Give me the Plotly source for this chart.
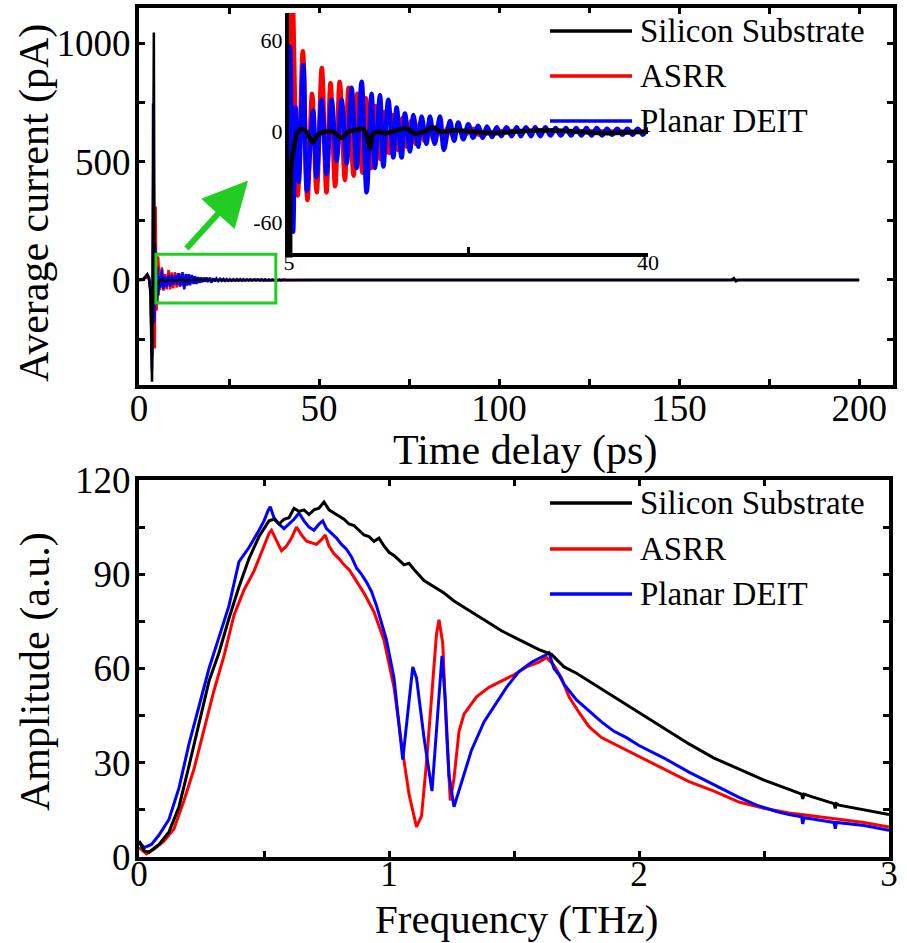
import plotly.graph_objects as go

W, H = 907, 943
FONT = "Liberation Serif, Times New Roman, serif"
RED, BLUE, BLACK, GREEN = "#ff0000", "#0000ff", "#000000", "#22cc22"

# ---------------- time domain (ps, pA) ----------------
t_si = [0, 1.0, 1.8, 2.3, 2.8, 3.2, 3.45, 3.62, 3.8, 3.97, 4.12, 4.3, 4.45, 4.7, 5.0, 5.12, 5.22,
        5.5, 5.8, 6.2, 6.7, 7.3, 7.8, 8.5, 9.3, 10.1, 10.8, 11.5, 12.2, 12.6, 12.9, 13.2, 13.7,
        14.5, 15.5, 16.5, 17.2, 18.2, 19.0, 19.8, 21, 23, 25, 27, 30, 33, 36, 40, 50, 70, 100,
        130, 164.5, 165.2, 165.8, 166.5, 180, 200]
i_si = [0, 2, 15, 25, 10, -60, -300, -430, -100, 500, 1045, 60, -80, -100, -95, -60, -22,
        -10, -1, 2, 0, -7, -2, 0, 0, -4, 0, 1, 2, -3, -11, -1, 0,
        -1, 1, 2, -1, 0, 3, 0, 1, 0, -1, 0, 1, 0, -1, 0, 0, 0, 0,
        0, 0, 8, -6, 0, 0, 0]

t_asrr = [0, 1.0, 1.8, 2.4, 2.9, 3.3, 3.5, 3.68, 3.85, 4.02, 4.2, 4.4, 4.62, 4.85, 5.02, 5.3,
          5.85, 6.35, 6.8, 7.25, 7.7, 8.2, 8.65, 9.05, 9.5, 9.95, 10.45, 10.8, 11.3, 11.65,
          12.15, 12.5, 13.0, 13.45, 13.9, 14.3, 14.75, 15.15, 15.6, 16.05, 16.5, 16.9, 17.35,
          17.8, 18.2, 18.65, 19.1, 19.5, 20.0, 20.5, 21.0, 21.5, 22.0, 23.0, 23.5, 25, 40, 200]
i_asrr = [0, 0, 8, 12, -5, -60, -250, -330, 50, 620, 250, -290, 310, -130, -100, 100,
          -42, 53, -45, 25, -40, 42, -40, 32, -36, 33, -32, 29, -29, 25,
          -27, 22, -24, 17, -18, 13, -14, 11, -12, 9, -10, 7, -8,
          6, -6, 5, -5, 4, -4, 3, -3, 2.5, -2.5, 2, -2, 0, 0, 0]

t_deit = [0, 1.0, 1.8, 2.3, 2.8, 3.2, 3.45, 3.6, 3.76, 3.9, 4.05, 4.25, 4.5, 4.75, 4.95, 5.1,
          5.4, 5.65, 5.95, 6.4, 6.75, 7.35, 7.69, 8.18, 8.67, 9.16, 9.64, 10.13, 10.62, 11.1,
          11.59, 12.08, 12.57, 13.05, 13.38, 13.87, 14.2, 14.68, 15.17, 15.49, 15.98, 16.3,
          16.8, 17.12, 17.6, 17.93, 18.4, 18.74, 19.2, 19.72, 20.1, 20.69, 21.1, 21.5, 22.0,
          22.48, 22.95, 23.45, 23.9, 24.3, 24.8, 25.25, 25.7, 26.2, 26.7, 27.2, 27.6, 28.1,
          28.6, 29.0, 29.5, 30.0, 30.5, 31.0, 31.5, 32.0, 32.5, 33.0, 33.5, 34.0, 34.5, 35.0,
          35.5, 36.0, 36.5, 37.0, 37.5, 38.0, 38.5, 39.0, 39.5, 40.0, 41, 200]
i_deit = [0, 1, 10, 18, 5, -50, -250, -380, -80, 745, 250, -180, 150, -90, 20, 56,
          -66, 16, -33, 44, -39, 14, -30, 21, -28, 21, -19, 21, -21, 29,
          -24, 33, -40, 25, -24, 24, -23, 21, -17, 16, -17, 12,
          -13, 11, -10, 10, -8, 10, -8, 10, -12, 7, -6, 6, -5,
          5, -4, 4, -4, 3.5, -3.5, 3, -3, 3, -3, 3, -3, 3,
          -3, 3, -3, 3, -2.5, 2.5, -2.5, 2.5, -2.5, 2.5, -2.5, 2.5, -2.5, 2.5,
          -2.5, 2, -2, 2, -2, 2, -2, 2, -2, 1.5, 0, 0]

# ---------------- spectrum (THz, a.u.) as (frequency, amplitude) readings ----------------
spec_si = [
    (0.0, 5), (0.02, 2), (0.04, 1.5), (0.08, 4), (0.12, 8), (0.16, 16), (0.2, 29), (0.24, 43),
    (0.28, 56), (0.32, 65), (0.36, 76), (0.4, 86), (0.44, 95), (0.48, 102),
    (0.50, 104.5), (0.52, 107), (0.54, 107.5), (0.56, 106), (0.58, 107.5), (0.60, 108),
    (0.62, 111), (0.64, 110), (0.66, 110.5), (0.68, 109), (0.70, 110.5), (0.72, 111),
    (0.74, 113), (0.76, 110.5), (0.78, 109.5), (0.80, 108.5), (0.82, 107.5), (0.84, 106),
    (0.86, 105.5), (0.88, 104), (0.90, 102.5), (0.92, 102), (0.94, 100.5), (0.96, 101.5),
    (0.98, 99), (1.00, 97), (1.02, 96), (1.04, 94.5), (1.06, 93), (1.08, 93.5), (1.10, 91.5),
    (1.14, 88), (1.18, 86), (1.22, 84), (1.26, 81.5), (1.3, 79.5), (1.35, 77), (1.4, 74.5),
    (1.45, 72), (1.5, 70), (1.55, 68), (1.6, 66), (1.65, 64.5), (1.7, 60.5), (1.75, 58.5),
    (1.8, 56), (1.9, 51), (2.0, 46), (2.1, 41), (2.2, 36), (2.3, 31.5), (2.4, 28), (2.5, 24.5),
    (2.6, 21.5), (2.65, 20), (2.655, 18.5), (2.66, 20), (2.7, 19), (2.78, 17), (2.785, 15.5),
    (2.79, 17), (2.8, 16.5), (2.9, 15), (3.0, 13.5),
]
spec_asrr = [
    (0.0, 3), (0.03, 1), (0.06, 2.5), (0.1, 5), (0.14, 9), (0.18, 18), (0.22, 28), (0.26, 41),
    (0.3, 53), (0.34, 64), (0.38, 77), (0.42, 85), (0.46, 91),
    (0.50, 99), (0.52, 103), (0.53, 104), (0.55, 100.5), (0.57, 97.5), (0.59, 99), (0.61, 101.5),
    (0.63, 105), (0.65, 102.5), (0.67, 100.5), (0.69, 100), (0.71, 99.5), (0.73, 101),
    (0.745, 102.5), (0.76, 99), (0.78, 96.5), (0.80, 95), (0.82, 93), (0.84, 91.5), (0.86, 89),
    (0.88, 86.5), (0.90, 84), (0.92, 81), (0.94, 78), (0.98, 69),
    (1.02, 54), (1.05, 36), (1.08, 20), (1.11, 9.6), (1.13, 13), (1.15, 30), (1.17, 52),
    (1.19, 71), (1.2, 75.5), (1.215, 68), (1.23, 40), (1.245, 18), (1.26, 25), (1.28, 40),
    (1.3, 45.5), (1.35, 51), (1.4, 54), (1.45, 56), (1.5, 58), (1.55, 60.5), (1.6, 62),
    (1.63, 63.5), (1.66, 61), (1.69, 57), (1.72, 51), (1.76, 46), (1.8, 41.5), (1.85, 38),
    (1.9, 36), (1.95, 34), (2.0, 32), (2.1, 28), (2.2, 24), (2.3, 21), (2.4, 17.5), (2.5, 15.5),
    (2.6, 14), (2.65, 13.5), (2.7, 13), (2.8, 12), (2.9, 11), (3.0, 9.5),
]
spec_deit = [
    (0.0, 5), (0.02, 3), (0.05, 4), (0.08, 7), (0.12, 12), (0.16, 22), (0.2, 36), (0.24, 48),
    (0.28, 60), (0.32, 70), (0.36, 80), (0.4, 94), (0.44, 98.5), (0.48, 104),
    (0.50, 107), (0.515, 110), (0.525, 111.5), (0.54, 108), (0.56, 106), (0.58, 104.5),
    (0.60, 106), (0.62, 107.5), (0.64, 109.5), (0.66, 107), (0.68, 105), (0.70, 104),
    (0.72, 106), (0.735, 107), (0.75, 104.5), (0.77, 103), (0.79, 101.5), (0.81, 99.5),
    (0.83, 98), (0.85, 95.5), (0.87, 92), (0.89, 90), (0.91, 87.5), (0.93, 84.5), (0.95, 80),
    (0.99, 69), (1.02, 57), (1.055, 31), (1.075, 45), (1.095, 60.5), (1.11, 57), (1.14, 38),
    (1.172, 21), (1.19, 40), (1.212, 64), (1.225, 50), (1.24, 26), (1.26, 16), (1.29, 24),
    (1.33, 34), (1.38, 43), (1.42, 48), (1.47, 54), (1.52, 59), (1.57, 62), (1.62, 64),
    (1.64, 65), (1.66, 60), (1.68, 58), (1.7, 55), (1.72, 53), (1.75, 50), (1.8, 46.5),
    (1.85, 43), (1.9, 40), (1.95, 38), (2.0, 35.5), (2.1, 31.5), (2.2, 27), (2.3, 23), (2.4, 19),
    (2.47, 16.5), (2.55, 14.5), (2.6, 13.5), (2.65, 12.8), (2.655, 10.5), (2.66, 12.5), (2.7, 12),
    (2.78, 11), (2.785, 9), (2.79, 11), (2.9, 10), (3.0, 8.5),
]
f_si, a_si = [p[0] for p in spec_si], [p[1] for p in spec_si]
f_asrr, a_asrr = [p[0] for p in spec_asrr], [p[1] for p in spec_asrr]
f_deit, a_deit = [p[0] for p in spec_deit], [p[1] for p in spec_deit]

series = [  # drawn red, blue, black (black on top)
    ("ASRR", RED, t_asrr, i_asrr, f_asrr, a_asrr),
    ("Planar DEIT", BLUE, t_deit, i_deit, f_deit, a_deit),
    ("Silicon Substrate", BLACK, t_si, i_si, f_si, a_si),
]
legend_order = ["Silicon Substrate", "ASRR", "Planar DEIT"]
legend_color = {"Silicon Substrate": BLACK, "ASRR": RED, "Planar DEIT": BLUE}


def px(x):
    return x / W


def py(y):
    return 1 - y / H


fig = go.Figure()
for name, col, t, i, f, a in series:
    fig.add_trace(go.Scatter(x=t, y=i, mode="lines", name=name, showlegend=False,
                             line=dict(color=col, width=2.5), xaxis="x", yaxis="y"))
for name, col, t, i, f, a in series:
    fig.add_trace(go.Scatter(x=t, y=i, mode="lines", name=name, showlegend=False,
                             line=dict(color=col, width=4.5, shape="spline", smoothing=1.0),
                             xaxis="x2", yaxis="y2"))
for name, col, t, i, f, a in series:
    fig.add_trace(go.Scatter(x=f, y=a, mode="lines", name=name, showlegend=False,
                             line=dict(color=col, width=3), xaxis="x3", yaxis="y3"))

tick_font = dict(family=FONT, size=37, color="black")
frame = dict(showline=True, linecolor="black", linewidth=4, mirror="allticks",
             ticks="inside", ticklen=6, tickwidth=3, tickcolor="black",
             showgrid=False, zeroline=False, tickfont=tick_font)


def minor(d):
    return dict(ticks="inside", ticklen=6, tickwidth=3, tickcolor="black", dtick=d, showgrid=False)


fig.update_layout(
    width=W, height=H, margin=dict(l=0, r=0, t=0, b=0, autoexpand=False),
    paper_bgcolor="white", plot_bgcolor="white", showlegend=False,
    font=dict(family=FONT, color="black"),
    xaxis=dict(domain=[px(139), px(893)], range=[0, 209.4], anchor="y", automargin=False,
               tick0=0, dtick=50, minor=minor(25), ticklabelstandoff=-12, **frame),
    yaxis=dict(domain=[py(385), py(8)], range=[-444, 1149], anchor="x", automargin=False,
               tick0=0, dtick=500, minor=minor(250), ticklabelstandoff=-3, **frame),
    xaxis2=dict(domain=[px(289), px(648)], range=[5, 40], anchor="y2", automargin=False,
                showline=True, linecolor="black", linewidth=4, mirror=False,
                ticks="inside", ticklen=6, tickwidth=3, tickcolor="black",
                tickvals=[5, 22.5, 40], ticktext=["5", "", "40"], showgrid=False, zeroline=False,
                tickfont=dict(family=FONT, size=22, color="black"), ticklabelstandoff=-13),
    yaxis2=dict(domain=[py(253), py(13)], range=[-80, 78.3], anchor="x2", automargin=False,
                showline=True, linecolor="black", linewidth=4, mirror=False,
                ticks="", tickvals=[-60, 0, 60], ticktext=["-60", "0", "60"],
                showgrid=False, zeroline=False,
                tickfont=dict(family=FONT, size=22, color="black"), ticklabelstandoff=-2),
    xaxis3=dict(domain=[px(139), px(889)], range=[0, 3], anchor="y3", automargin=False,
                tick0=0, dtick=1, minor=minor(0.5), ticklabelstandoff=-17,
                **{**frame, "tickfont": dict(family=FONT, size=35, color="black")}),
    yaxis3=dict(domain=[py(857), py(480)], range=[0, 120], anchor="x3", automargin=False,
                tick0=0, dtick=30, minor=minor(15), ticklabelstandoff=-3, **frame),
)

# zoom box and arrow on main panel
fig.add_shape(type="rect", xref="x", yref="y", x0=4.7, x1=38, y0=-97, y1=109,
              line=dict(color=GREEN, width=3))
fig.add_annotation(xref="x", yref="y", axref="x", ayref="y", x=30.3, y=420, ax=12.8, ay=126,
                   text="", showarrow=True, arrowhead=2, arrowsize=1.5, arrowwidth=6,
                   arrowcolor=GREEN)

# axis titles
title_font = dict(family=FONT, size=42, color="black")
fig.add_annotation(xref="paper", yref="paper", x=px(35), y=py(203), text="Average current (pA)",
                   textangle=-90, showarrow=False, font=title_font, xanchor="center", yanchor="middle")
fig.add_annotation(xref="paper", yref="paper", x=px(525), y=py(450), text="Time delay (ps)",
                   showarrow=False, font=title_font, xanchor="center", yanchor="middle")
fig.add_annotation(xref="paper", yref="paper", x=px(35), y=py(672), text="Amplitude (a.u.)",
                   textangle=-90, showarrow=False, font=title_font, xanchor="center", yanchor="middle")
fig.add_annotation(xref="paper", yref="paper", x=px(516), y=py(919), text="Frequency (THz)",
                   showarrow=False, font=dict(family=FONT, size=41, color="black"),
                   xanchor="center", yanchor="middle")

# legends (drawn manually to match long sample lines)
leg_font = dict(family=FONT, size=33, color="black")
for ys in ([31, 76, 121], [503, 549, 594]):
    for name, yy in zip(legend_order, ys):
        fig.add_shape(type="line", xref="paper", yref="paper", x0=px(550), x1=px(632),
                      y0=py(yy), y1=py(yy), line=dict(color=legend_color[name], width=3.5))
        fig.add_annotation(xref="paper", yref="paper", x=px(638), y=py(yy), text=name,
                           showarrow=False, font=leg_font, xanchor="left", yanchor="middle")

fig.write_html("out.html")
